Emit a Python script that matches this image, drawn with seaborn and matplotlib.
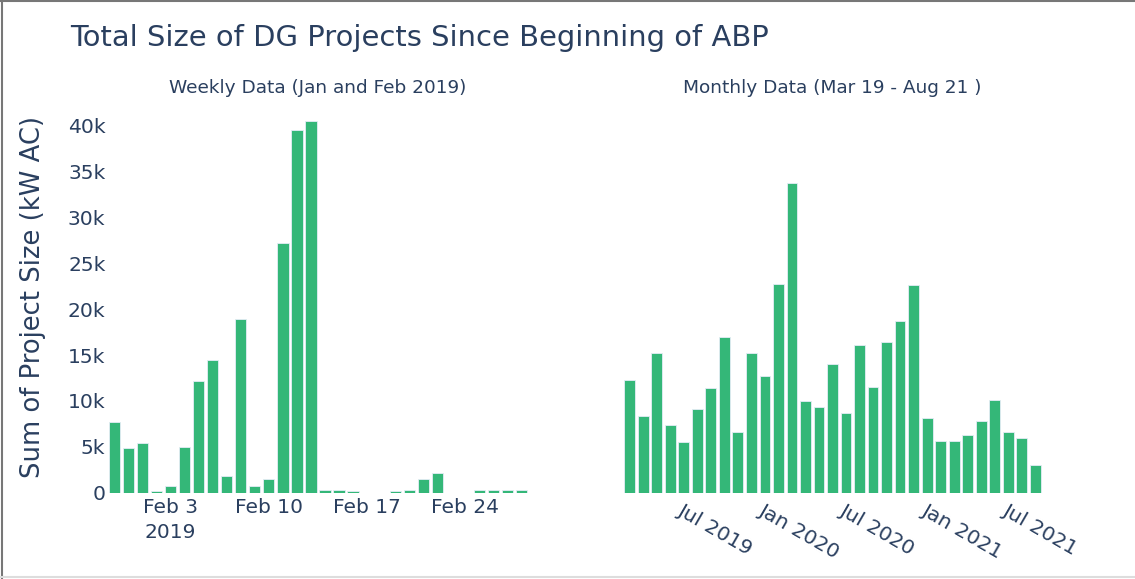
import seaborn as sns
import pandas as pd
import numpy as np
import matplotlib.pyplot as plt
from matplotlib.lines import Line2D

# Daily totals, Jan 30 - Feb 28 2019 (kW AC)
days = pd.date_range("2019-01-30", "2019-02-28", freq="D")
daily_kw = [7720, 4890, 5470, 180, 760, 5000, 12200, 14500, 1850, 18950,
            720, 1450, 27200, 39600, 40500, 290, 290, 150, 0, 0,
            150, 290, 1490, 2100, 0, 0, 250, 250, 250, 250]
daily_ticks = ["2019-02-03", "2019-02-10", "2019-02-17", "2019-02-24"]
daily_ticklabels = ["Feb 3\n2019", "Feb 10", "Feb 17", "Feb 24"]

# Monthly totals, Mar 2019 - Sep 2021 (kW AC)
months = pd.date_range("2019-03-01", "2021-09-01", freq="MS")
monthly_kw = [12250, 8370, 15200, 7360, 5510, 9130, 11450, 16960, 6670, 15250,
              12720, 22750, 33770, 10040, 9310, 14060, 8700, 16050, 11490, 16410,
              18730, 22680, 8150, 5650, 5690, 6300, 7830, 10140, 6630, 5910, 2970]
monthly_ticks = ["2019-07-01", "2020-01-01", "2020-07-01", "2021-01-01", "2021-07-01"]
monthly_ticklabels = ["Jul 2019", "Jan 2020", "Jul 2020", "Jan 2021", "Jul 2021"]

df_day = pd.DataFrame({"date": days.strftime("%Y-%m-%d"), "kw": daily_kw})
df_month = pd.DataFrame({"date": months.strftime("%Y-%m-%d"), "kw": monthly_kw})

sns.set_style("white")
plt.rcParams["font.family"] = ["DejaVu Sans"]

text_color = "#2a3f5f"
bar_color = "#34b778"

W, H = 1135, 579
fig = plt.figure(figsize=(W / 100, H / 100), dpi=100)
ax1 = fig.add_axes([107.5 / W, 1 - 492.7 / H, 421 / W, 390.7 / H])
ax2 = fig.add_axes([623 / W, 1 - 492.7 / H, 419 / W, 390.7 / H], sharey=ax1)

sns.barplot(data=df_day, x="date", y="kw", color=bar_color, saturation=1,
            errorbar=None, width=0.8, edgecolor="#e5ecf6", linewidth=0.6, ax=ax1)
sns.barplot(data=df_month, x="date", y="kw", color=bar_color, saturation=1,
            errorbar=None, width=0.8, edgecolor="#e5ecf6", linewidth=0.6, ax=ax2)

ax1.set_ylim(0, 42600)
ax1.set_xlim(-0.5, len(days) - 0.5)
ax2.set_xlim(-0.5, len(months) - 0.5)

yt = np.arange(0, 40001, 5000)
ax1.set_yticks(yt)
ax1.set_yticklabels(["0"] + [f"{int(v/1000)}k" for v in yt[1:]])
ax1.tick_params(axis="y", length=0, pad=1.5, labelsize=14.6, labelcolor=text_color)
ax2.tick_params(axis="y", left=False, labelleft=False, length=0)

day_list = list(df_day["date"])
ax1.set_xticks([day_list.index(d) for d in daily_ticks])
ax1.set_xticklabels(daily_ticklabels, linespacing=1.38)
ax1.tick_params(axis="x", length=0, pad=4, labelsize=14.5, labelcolor=text_color)

month_list = list(df_month["date"])
ax2.set_xticks([month_list.index(d) for d in monthly_ticks])
ax2.set_xticklabels(monthly_ticklabels, rotation=-30, ha="left", va="top",
                    rotation_mode="anchor")
ax2.tick_params(axis="x", length=0, pad=6, labelsize=14.7, labelcolor=text_color)

for ax in (ax1, ax2):
    ax.set_xlabel("")
    ax.set_ylabel("")
    sns.despine(ax=ax, left=True, bottom=True)

fig.text(33 / W, 1 - 297 / H, "Sum of Project Size (kW AC)", rotation=90,
         ha="center", va="center", fontsize=18.6, color=text_color)
fig.text(70 / W, 1 - 38 / H, "Total Size of DG Projects Since Beginning of ABP",
         ha="left", va="center", fontsize=20.9, color=text_color)
fig.text(318 / W, 1 - 88 / H, "Weekly Data (Jan and Feb 2019)",
         ha="center", va="center", fontsize=13.3, color=text_color)
fig.text(832.5 / W, 1 - 88 / H, "Monthly Data (Mar 19 - Aug 21 )",
         ha="center", va="center", fontsize=13.3, color=text_color)

# thin frame of the screenshot
fig.add_artist(Line2D([0, 1], [0.999, 0.999], color="#777777", lw=1.5, transform=fig.transFigure))
fig.add_artist(Line2D([0.002, 0.002], [0, 1], color="#777777", lw=1.5, transform=fig.transFigure))
fig.add_artist(Line2D([0, 1], [0.003, 0.003], color="#dddddd", lw=1.5, transform=fig.transFigure))

plt.savefig("out.png", dpi=100)
plt.close()
